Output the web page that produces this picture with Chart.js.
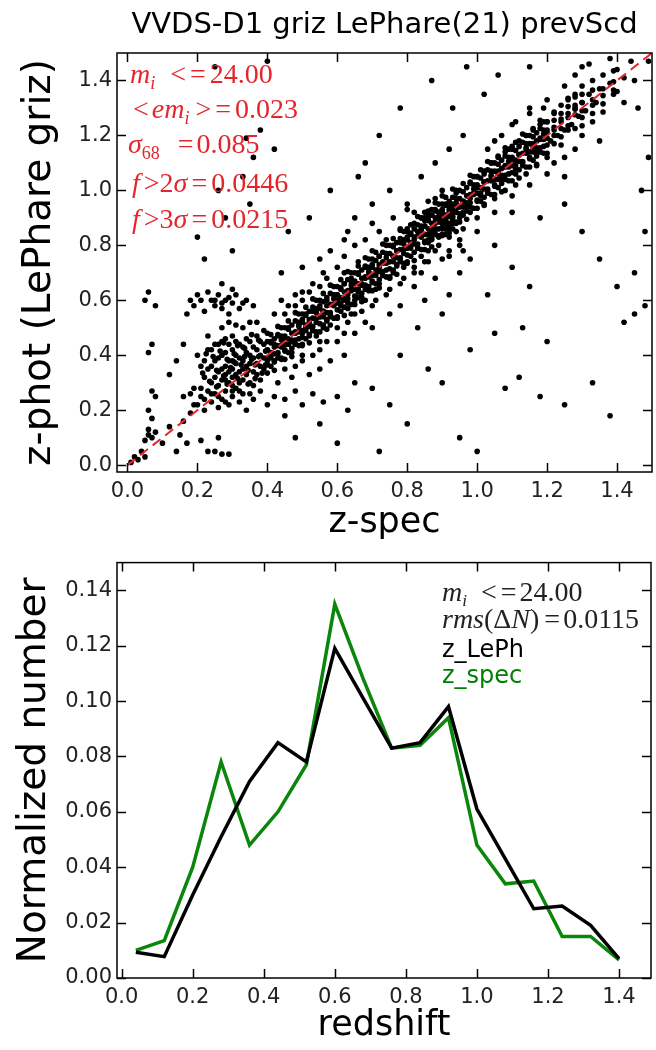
<!DOCTYPE html>
<html>
<head>
<meta charset="utf-8">
<script src="https://cdn.jsdelivr.net/npm/chart.js@4.4.1/dist/chart.umd.min.js"></script>
<style>
  body { margin: 0; background: #fff; }
  canvas { position: absolute; left: 0; }
  #zz { top: 0; }
  #hist { top: 545px; }
</style>
</head>
<body>
<canvas id="zz" width="656" height="545"></canvas>
<canvas id="hist" width="656" height="505"></canvas>
<script>
// [z-spec, z-phot] per galaxy
const zPairs = [
  // low-z outliers and tail
  [0.01,0.01],[0.02,0.03],[0.03,0.02],[0.04,0.05],[0.05,0.03],[0.05,0.09],[0.06,0.11],[0.07,0.10],[0.06,0.13],[0.08,0.12],
  [0.07,0.17],[0.06,0.20],[0.08,0.25],[0.07,0.27],[0.06,0.41],[0.07,0.44],[0.05,0.60],[0.06,0.63],[0.08,0.58],[0.10,0.08],
  [0.12,0.14],[0.14,0.05],[0.15,0.11],[0.16,0.16],[0.17,0.08],[0.18,0.19],[0.19,0.22],[0.18,0.26],[0.16,0.25],[0.17,0.55],
  [0.18,0.60],[0.20,0.62],[0.19,0.58],[0.21,0.09],[0.23,0.05],[0.25,0.05],[0.27,0.04],[0.29,0.04],[0.26,0.10],[0.12,0.33],
  [0.14,0.38],[0.16,0.44],
  [0.20,0.22],[0.21,0.25],[0.22,0.20],[0.23,0.27],[0.24,0.23],[0.25,0.26],[0.26,0.21],[0.27,0.24],[0.28,0.27],[0.29,0.22],
  [0.30,0.25],[0.31,0.28],[0.32,0.23],[0.33,0.26],[0.34,0.20],[0.36,0.24],[0.38,0.27],[0.40,0.22],[0.42,0.25],[0.45,0.24],
  [0.48,0.27],[0.50,0.22],[0.53,0.26],[0.56,0.23],[0.60,0.25],
  // z ~ 0.3 clump
  [0.22,0.32],[0.23,0.35],[0.24,0.30],[0.25,0.38],[0.26,0.34],[0.27,0.31],[0.27,0.40],[0.28,0.36],[0.28,0.33],[0.29,0.38],
  [0.29,0.30],[0.30,0.35],[0.30,0.42],[0.30,0.32],[0.31,0.37],[0.31,0.40],[0.32,0.34],[0.32,0.30],[0.32,0.44],[0.33,0.38],
  [0.33,0.35],[0.34,0.41],[0.34,0.33],[0.35,0.37],[0.35,0.45],[0.36,0.39],[0.36,0.34],[0.37,0.42],[0.37,0.47],[0.38,0.36],
  [0.38,0.40],[0.39,0.44],[0.40,0.38],[0.40,0.48],[0.26,0.44],[0.28,0.46],[0.24,0.42],[0.21,0.36],[0.20,0.40],[0.30,0.47],
  [0.33,0.50],[0.29,0.52],[0.35,0.52],
  [0.21,0.28],[0.22,0.38],[0.23,0.42],[0.24,0.36],[0.25,0.32],[0.25,0.44],[0.26,0.29],[0.26,0.39],[0.27,0.35],[0.27,0.45],
  [0.28,0.31],[0.28,0.41],[0.29,0.34],[0.29,0.44],[0.30,0.29],[0.30,0.38],[0.31,0.33],[0.31,0.45],[0.32,0.39],[0.32,0.27],
  [0.33,0.31],[0.33,0.43],[0.34,0.36],[0.34,0.46],[0.35,0.30],[0.35,0.40],[0.36,0.43],[0.36,0.29],[0.37,0.37],[0.37,0.33],
  [0.38,0.45],[0.38,0.31],[0.39,0.39],[0.39,0.35],[0.22,0.24],[0.24,0.26],[0.26,0.25],[0.28,0.23],[0.30,0.27],[0.35,0.26],
  [0.19,0.28],[0.23,0.47],[0.27,0.50],[0.31,0.51],[0.37,0.52],[0.39,0.49],
  [0.215,0.335],[0.235,0.305],[0.245,0.395],[0.255,0.345],[0.265,0.415],[0.275,0.325],[0.285,0.385],[0.295,0.355],
  [0.305,0.405],[0.315,0.315],[0.325,0.365],[0.335,0.425],[0.345,0.345],[0.355,0.385],[0.365,0.315],[0.375,0.395],
  [0.385,0.335],[0.395,0.415],[0.255,0.285],[0.285,0.295],[0.315,0.435],[0.345,0.295],[0.375,0.455],[0.305,0.375],
  [0.335,0.395],[0.365,0.365],[0.395,0.365],[0.275,0.445],[0.225,0.405],[0.355,0.475],
  // stripe at z-phot ~ 0.6
  [0.22,0.56],[0.24,0.60],[0.25,0.58],[0.26,0.62],[0.27,0.57],[0.28,0.60],[0.29,0.55],[0.30,0.59],[0.31,0.62],[0.32,0.57],
  [0.34,0.60],[0.36,0.58],[0.23,0.63],[0.30,0.64],[0.27,0.66],[0.25,0.60],[0.27,0.59],[0.29,0.61],[0.33,0.59],[0.21,0.60],
  [0.20,0.83],[0.22,0.75],[0.28,0.90],[0.30,0.78],[0.33,1.05],[0.34,1.19],[0.36,1.12],[0.38,1.22],[0.40,1.47],[0.25,1.45],
  [0.35,0.95],[0.26,1.00],
  // 0.4 - 0.6
  [0.40,0.42],[0.41,0.40],[0.41,0.45],[0.42,0.38],[0.42,0.44],[0.43,0.41],[0.43,0.47],[0.44,0.43],[0.44,0.39],[0.45,0.46],
  [0.45,0.42],[0.46,0.44],[0.46,0.50],[0.47,0.45],[0.47,0.41],[0.48,0.48],[0.48,0.44],[0.49,0.51],[0.49,0.46],[0.50,0.48],
  [0.50,0.53],[0.50,0.44],[0.51,0.50],[0.51,0.55],[0.52,0.47],[0.52,0.52],[0.53,0.49],[0.53,0.56],[0.54,0.52],[0.54,0.47],
  [0.55,0.54],[0.55,0.58],[0.56,0.50],[0.56,0.56],[0.57,0.53],[0.57,0.60],[0.58,0.55],[0.58,0.51],[0.59,0.58],[0.59,0.62],
  [0.60,0.54],[0.60,0.60],
  [0.42,0.55],[0.44,0.60],[0.46,0.58],[0.48,0.62],[0.50,0.60],[0.52,0.63],[0.45,0.35],[0.48,0.36],[0.50,0.38],[0.53,0.40],
  [0.55,0.42],[0.57,0.45],[0.43,0.30],[0.47,0.32],[0.52,0.33],[0.58,0.38],[0.44,0.70],[0.50,0.72],[0.55,0.75],[0.46,0.85],
  [0.52,0.90],[0.58,1.00],[0.42,1.15],[0.48,0.10],[0.55,0.15],[0.60,0.08],[0.45,0.18],[0.55,0.65],[0.57,0.68],
  // 0.6 - 0.8
  [0.60,0.62],[0.61,0.58],[0.61,0.64],[0.62,0.60],[0.62,0.66],[0.63,0.62],[0.63,0.57],[0.64,0.64],[0.64,0.68],[0.65,0.60],
  [0.65,0.66],[0.66,0.63],[0.66,0.70],[0.67,0.66],[0.67,0.61],[0.68,0.68],[0.68,0.72],[0.69,0.65],[0.69,0.70],[0.70,0.67],
  [0.70,0.73],[0.71,0.70],[0.71,0.64],[0.72,0.72],[0.72,0.76],[0.73,0.69],[0.73,0.74],[0.74,0.71],[0.74,0.77],[0.75,0.74],
  [0.75,0.68],[0.76,0.76],[0.76,0.80],[0.77,0.73],[0.77,0.78],[0.78,0.75],[0.78,0.81],[0.79,0.77],[0.79,0.72],[0.80,0.79],
  [0.80,0.83],
  [0.62,0.70],[0.64,0.55],[0.66,0.74],[0.68,0.60],[0.70,0.78],[0.72,0.66],[0.74,0.82],[0.76,0.70],[0.78,0.86],[0.80,0.74],
  [0.63,0.52],[0.67,0.56],[0.71,0.60],[0.75,0.64],[0.79,0.68],
  [0.60,0.45],[0.62,0.40],[0.65,0.48],[0.70,0.50],[0.75,0.55],[0.78,0.58],[0.62,0.82],[0.65,0.90],[0.70,0.95],[0.75,1.00],
  [0.68,1.10],[0.72,1.20],[0.78,1.30],[0.65,0.30],[0.70,0.28],[0.75,0.22],[0.80,0.15],[0.72,0.05],[0.63,0.20],[0.78,0.40],
  [0.80,0.95],[0.66,1.05],
  // 0.8 - 1.0
  [0.80,0.86],[0.81,0.80],[0.81,0.84],[0.82,0.82],[0.82,0.88],[0.83,0.79],[0.83,0.85],[0.84,0.83],[0.84,0.90],[0.85,0.81],
  [0.85,0.87],[0.85,0.92],[0.86,0.84],[0.86,0.89],[0.86,0.78],[0.87,0.86],[0.87,0.91],[0.87,0.82],[0.88,0.88],[0.88,0.93],
  [0.88,0.84],[0.89,0.86],[0.89,0.90],[0.89,0.80],[0.90,0.88],[0.90,0.93],[0.90,0.84],[0.91,0.90],[0.91,0.86],[0.91,0.95],
  [0.92,0.88],[0.92,0.92],[0.92,0.83],[0.93,0.90],[0.93,0.95],[0.93,0.86],[0.94,0.92],[0.94,0.88],[0.95,0.94],[0.95,0.90],
  [0.96,0.96],[0.96,0.92],[0.97,0.94],[0.98,0.97],[0.98,0.92],[0.99,0.99],[1.00,0.96],[1.00,1.01],
  [0.82,0.92],[0.84,0.76],[0.86,0.96],[0.88,0.78],[0.90,0.98],[0.92,0.78],[0.94,0.99],[0.96,0.86],[0.98,1.03],[0.85,0.74],
  [0.90,0.75],[0.95,0.82],
  [0.84,0.86],[0.85,0.89],[0.86,0.82],[0.86,0.91],[0.87,0.84],[0.87,0.93],[0.88,0.86],[0.88,0.90],[0.89,0.83],[0.89,0.92],
  [0.90,0.86],[0.90,0.91],[0.91,0.84],[0.91,0.88],[0.92,0.86],[0.92,0.94],[0.93,0.88],[0.93,0.92],[0.94,0.85],[0.94,0.95],
  [0.88,0.97],[0.90,1.00],[0.86,0.74],[0.92,0.76],[0.95,0.80],[0.82,0.72],[0.84,0.70],[0.96,0.78],
  [0.82,0.65],[0.85,0.60],[0.88,0.68],[0.90,0.55],[0.92,0.62],[0.95,0.70],[0.98,0.75],[0.84,1.05],[0.88,1.10],[0.92,1.15],
  [0.96,1.20],[0.86,0.35],[0.90,0.30],[0.95,0.10],[0.98,0.42],[0.83,0.50],[0.93,1.30],[0.87,1.40],[0.97,1.45],
  // 1.0 - 1.2
  [1.00,1.05],[1.01,0.98],[1.02,1.03],[1.02,1.07],[1.03,1.00],[1.04,1.05],[1.04,1.10],[1.05,1.02],[1.06,1.07],[1.06,1.12],
  [1.07,1.04],[1.08,1.09],[1.08,1.14],[1.09,1.06],[1.10,1.11],[1.10,1.16],[1.11,1.08],[1.12,1.13],[1.12,1.18],[1.13,1.10],
  [1.14,1.15],[1.14,1.20],[1.15,1.12],[1.16,1.17],[1.16,1.22],[1.17,1.14],[1.18,1.19],[1.18,1.24],[1.19,1.16],[1.20,1.21],
  [1.02,0.95],[1.05,0.97],[1.08,1.00],[1.11,1.02],[1.14,1.06],[1.17,1.09],[1.20,1.12],[1.03,1.15],[1.07,1.20],[1.11,1.25],
  [1.15,1.30],[1.19,1.30],
  [1.00,0.85],[1.05,0.80],[1.10,0.72],[1.15,0.65],[1.03,0.62],[1.08,0.28],[1.12,0.32],[1.18,0.25],[1.00,0.05],[1.05,0.48],
  [1.13,0.50],[1.02,1.35],[1.06,1.42],[1.15,1.45],[1.18,0.90],[1.10,0.92],
  // 1.2 - 1.5
  [1.20,1.25],[1.21,1.18],[1.22,1.23],[1.22,1.28],[1.23,1.20],[1.24,1.26],[1.24,1.31],[1.25,1.22],[1.26,1.28],[1.26,1.33],
  [1.27,1.24],[1.28,1.30],[1.28,1.35],[1.29,1.27],[1.30,1.32],[1.30,1.38],[1.31,1.29],[1.32,1.35],[1.33,1.40],[1.34,1.32],
  [1.35,1.37],[1.36,1.42],[1.38,1.39],[1.40,1.44],[1.42,1.41],[1.44,1.47],
  [1.22,1.10],[1.25,1.05],[1.28,1.15],[1.30,1.20],[1.33,1.25],[1.35,1.18],[1.25,0.95],[1.30,0.85],[1.35,0.75],[1.40,0.65],
  [1.45,0.55],[1.48,0.58],[1.42,0.52],[1.25,0.22],[1.38,0.18],[1.45,0.70],[1.48,0.85],[1.47,1.00],[1.49,1.12],[1.46,1.30],
  [1.49,1.47],[1.30,1.45],[1.38,1.48],[1.20,0.45],[1.33,0.30],
  // wider wings of the main sequence
  [0.45,0.55],[0.48,0.58],[0.50,0.63],[0.53,0.66],[0.56,0.70],[0.60,0.72],[0.62,0.76],[0.65,0.80],[0.68,0.82],[0.72,0.85],
  [0.76,0.90],[0.80,0.93],[0.50,0.40],[0.55,0.45],[0.60,0.50],[0.65,0.55],[0.70,0.58],[0.74,0.62],[0.78,0.66],[0.82,0.70],
  [1.00,0.90],[1.05,0.92],[1.10,0.98],[1.15,1.02],[1.20,1.06],[1.25,1.12],[1.05,1.18],[1.10,1.24],[1.15,1.28],[1.20,1.33],
  [1.25,1.38],[1.28,1.42],[1.32,1.46],[1.40,1.36],[1.42,1.32],[1.45,1.40],[0.58,0.78],[0.63,0.85],[0.70,0.88],[0.55,0.35],
  [0.62,0.48],[0.68,0.52],
  // core of the main sequence
  [0.40,0.335],[0.40,0.365],[0.40,0.390],[0.40,0.420],[0.40,0.450],
  [0.41,0.360],[0.41,0.390],[0.41,0.410],[0.41,0.445],[0.41,0.475],
  [0.42,0.345],[0.42,0.375],[0.42,0.405],[0.42,0.430],[0.42,0.460],
  [0.43,0.390],[0.43,0.405],[0.43,0.435],[0.43,0.475],[0.43,0.505],
  [0.44,0.385],[0.44,0.435],[0.44,0.455],[0.44,0.470],[0.44,0.500],
  [0.45,0.385],[0.45,0.415],[0.45,0.440],[0.45,0.470],[0.45,0.500],
  [0.46,0.410],[0.46,0.440],[0.46,0.460],[0.46,0.495],[0.46,0.525],
  [0.47,0.395],[0.47,0.425],[0.47,0.455],[0.47,0.480],[0.47,0.510],
  [0.48,0.440],[0.48,0.455],[0.48,0.485],[0.48,0.525],[0.48,0.555],
  [0.49,0.435],[0.49,0.485],[0.49,0.505],[0.49,0.520],[0.49,0.550],
  [0.50,0.435],[0.50,0.465],[0.50,0.490],[0.50,0.520],[0.50,0.550],
  [0.51,0.460],[0.51,0.490],[0.51,0.510],[0.51,0.545],[0.51,0.575],
  [0.52,0.445],[0.52,0.475],[0.52,0.505],[0.52,0.530],[0.52,0.560],
  [0.53,0.490],[0.53,0.505],[0.53,0.535],[0.53,0.575],[0.53,0.605],
  [0.54,0.485],[0.54,0.535],[0.54,0.555],[0.54,0.570],[0.54,0.600],
  [0.55,0.485],[0.55,0.515],[0.55,0.540],[0.55,0.570],[0.55,0.600],
  [0.56,0.510],[0.56,0.540],[0.56,0.560],[0.56,0.595],[0.56,0.625],
  [0.57,0.495],[0.57,0.525],[0.57,0.555],[0.57,0.580],[0.57,0.610],
  [0.58,0.540],[0.58,0.555],[0.58,0.585],[0.58,0.625],[0.58,0.655],
  [0.59,0.535],[0.59,0.585],[0.59,0.605],[0.59,0.620],[0.59,0.650],
  [0.60,0.535],[0.60,0.565],[0.60,0.590],[0.60,0.620],[0.60,0.650],
  [0.61,0.560],[0.61,0.590],[0.61,0.610],[0.61,0.645],[0.61,0.675],
  [0.62,0.545],[0.62,0.575],[0.62,0.605],[0.62,0.630],[0.62,0.660],
  [0.63,0.590],[0.63,0.605],[0.63,0.635],[0.63,0.675],[0.63,0.705],
  [0.64,0.585],[0.64,0.635],[0.64,0.655],[0.64,0.670],[0.64,0.700],
  [0.65,0.585],[0.65,0.615],[0.65,0.640],[0.65,0.670],[0.65,0.700],
  [0.66,0.610],[0.66,0.640],[0.66,0.660],[0.66,0.695],[0.66,0.725],
  [0.67,0.595],[0.67,0.625],[0.67,0.655],[0.67,0.680],[0.67,0.710],
  [0.68,0.640],[0.68,0.655],[0.68,0.685],[0.68,0.725],[0.68,0.755],
  [0.69,0.635],[0.69,0.685],[0.69,0.705],[0.69,0.720],[0.69,0.750],
  [0.70,0.635],[0.70,0.665],[0.70,0.690],[0.70,0.720],[0.70,0.750],
  [0.71,0.660],[0.71,0.690],[0.71,0.710],[0.71,0.745],[0.71,0.775],
  [0.72,0.645],[0.72,0.675],[0.72,0.705],[0.72,0.730],[0.72,0.760],
  [0.73,0.690],[0.73,0.705],[0.73,0.735],[0.73,0.775],[0.73,0.805],
  [0.74,0.685],[0.74,0.735],[0.74,0.755],[0.74,0.770],[0.74,0.800],
  [0.75,0.685],[0.75,0.715],[0.75,0.740],[0.75,0.770],[0.75,0.800],
  [0.76,0.710],[0.76,0.740],[0.76,0.760],[0.76,0.795],[0.76,0.825],
  [0.77,0.695],[0.77,0.725],[0.77,0.755],[0.77,0.780],[0.77,0.810],
  [0.78,0.740],[0.78,0.755],[0.78,0.785],[0.78,0.825],[0.78,0.855],
  [0.79,0.735],[0.79,0.785],[0.79,0.805],[0.79,0.820],[0.79,0.850],
  [0.80,0.735],[0.80,0.765],[0.80,0.790],[0.80,0.820],[0.80,0.850],
  [0.81,0.760],[0.81,0.790],[0.81,0.810],[0.81,0.845],[0.81,0.875],
  [0.82,0.745],[0.82,0.775],[0.82,0.805],[0.82,0.830],[0.82,0.860],
  [0.83,0.790],[0.83,0.805],[0.83,0.835],[0.83,0.875],[0.83,0.905],
  [0.84,0.785],[0.84,0.835],[0.84,0.855],[0.84,0.870],[0.84,0.900],
  [0.85,0.785],[0.85,0.815],[0.85,0.840],[0.85,0.870],[0.85,0.900],
  [0.86,0.810],[0.86,0.840],[0.86,0.860],[0.86,0.895],[0.86,0.925],
  [0.87,0.795],[0.87,0.825],[0.87,0.855],[0.87,0.880],[0.87,0.910],
  [0.88,0.840],[0.88,0.855],[0.88,0.885],[0.88,0.925],[0.88,0.955],
  [0.89,0.835],[0.89,0.885],[0.89,0.905],[0.89,0.920],[0.89,0.950],
  [0.90,0.835],[0.90,0.865],[0.90,0.890],[0.90,0.920],[0.90,0.950],
  [0.91,0.860],[0.91,0.890],[0.91,0.910],[0.91,0.945],[0.91,0.975],
  [0.92,0.845],[0.92,0.875],[0.92,0.905],[0.92,0.930],[0.92,0.960],
  [0.93,0.890],[0.93,0.905],[0.93,0.935],[0.93,0.975],[0.93,1.005],
  [0.94,0.885],[0.94,0.935],[0.94,0.955],[0.94,0.970],[0.94,1.000],
  [0.95,0.885],[0.95,0.915],[0.95,0.940],[0.95,0.970],[0.95,1.000],
  [0.96,0.910],[0.96,0.940],[0.96,0.960],[0.96,0.995],[0.96,1.025],
  [0.97,0.895],[0.97,0.925],[0.97,0.955],[0.97,0.980],[0.97,1.010],
  [0.98,0.940],[0.98,0.955],[0.98,0.985],[0.98,1.025],[0.98,1.055],
  [0.99,0.935],[0.99,0.985],[0.99,1.005],[0.99,1.020],[0.99,1.050],
  [1.00,0.935],[1.00,0.965],[1.00,0.990],[1.00,1.020],[1.00,1.050],
  [1.01,0.960],[1.01,0.990],[1.01,1.010],[1.01,1.045],[1.01,1.075],
  [1.02,0.945],[1.02,0.975],[1.02,1.005],[1.02,1.030],[1.02,1.060],
  [1.03,0.990],[1.03,1.005],[1.03,1.035],[1.03,1.075],[1.03,1.105],
  [1.04,0.985],[1.04,1.035],[1.04,1.055],[1.04,1.070],[1.04,1.100],
  [1.05,0.985],[1.05,1.015],[1.05,1.040],[1.05,1.070],[1.05,1.100],
  [1.06,1.010],[1.06,1.040],[1.06,1.060],[1.06,1.095],[1.06,1.125],
  [1.07,0.995],[1.07,1.025],[1.07,1.055],[1.07,1.080],[1.07,1.110],
  [1.08,1.040],[1.08,1.055],[1.08,1.085],[1.08,1.125],[1.08,1.155],
  [1.09,1.035],[1.09,1.085],[1.09,1.105],[1.09,1.120],[1.09,1.150],
  [1.10,1.035],[1.10,1.065],[1.10,1.090],[1.10,1.120],[1.10,1.150],
  [1.11,1.060],[1.11,1.090],[1.11,1.110],[1.11,1.145],[1.11,1.175],
  [1.12,1.045],[1.12,1.075],[1.12,1.105],[1.12,1.130],[1.12,1.160],
  [1.13,1.090],[1.13,1.105],[1.13,1.135],[1.13,1.175],[1.13,1.205],
  [1.14,1.085],[1.14,1.135],[1.14,1.155],[1.14,1.170],[1.14,1.200],
  [1.15,1.085],[1.15,1.115],[1.15,1.140],[1.15,1.170],[1.15,1.200],
  [1.16,1.110],[1.16,1.140],[1.16,1.160],[1.16,1.195],[1.16,1.225],
  [1.17,1.095],[1.17,1.125],[1.17,1.155],[1.17,1.180],[1.17,1.210],
  [1.18,1.140],[1.18,1.155],[1.18,1.185],[1.18,1.225],[1.18,1.255],
  [1.19,1.135],[1.19,1.185],[1.19,1.205],[1.19,1.220],[1.19,1.250],
  [1.20,1.135],[1.20,1.165],[1.20,1.190],[1.20,1.220],[1.20,1.250],
  [1.22,1.170],[1.22,1.200],[1.22,1.220],[1.22,1.255],[1.22,1.285],
  [1.24,1.165],[1.24,1.195],[1.24,1.225],[1.24,1.250],[1.24,1.280],
  [1.26,1.220],[1.26,1.235],[1.26,1.265],[1.26,1.305],[1.26,1.335],
  [1.28,1.225],[1.28,1.275],[1.28,1.295],[1.28,1.310],[1.28,1.340],
  [1.30,1.235],[1.30,1.265],[1.30,1.290],[1.30,1.320],[1.30,1.350],
  [1.33,1.280],[1.33,1.310],[1.33,1.330],[1.33,1.365],
  [1.36,1.285],[1.36,1.315],[1.36,1.345],[1.36,1.370],
  [1.39,1.350],[1.39,1.365],[1.39,1.395],[1.39,1.435]
];
const zSpec = zPairs.map(p => p[0]);
const zPhot = zPairs.map(p => p[1]);
const oneToOne = [0, 1.5];
const zTicks = [0, 0.2, 0.4, 0.6, 0.8, 1.0, 1.2, 1.4];

// normalized N(z), bin centres
const zBins = [0.04, 0.12, 0.20, 0.28, 0.36, 0.44, 0.52, 0.60, 0.68, 0.76, 0.84, 0.92, 1.00, 1.08, 1.16, 1.24, 1.32, 1.40];
const nLePh = [0.0093, 0.0077, 0.030, 0.051, 0.071, 0.085, 0.078, 0.119, 0.101, 0.083, 0.085, 0.098, 0.061, 0.043, 0.025, 0.026, 0.019, 0.007];
const nSpec = [0.0100, 0.0135, 0.040, 0.078, 0.048, 0.060, 0.077, 0.135, 0.108, 0.083, 0.084, 0.094, 0.048, 0.034, 0.035, 0.015, 0.015, 0.0065];
const nTicks = [0, 0.02, 0.04, 0.06, 0.08, 0.10, 0.12, 0.14];

const RED = 'rgb(228,38,44)';
const X_TITLE = { family: 'DejaVu Sans', size: 35, lineHeight: 1 };
const Y_TITLE = { family: 'DejaVu Sans', size: 39, lineHeight: 1 };
const TICK_FONT = { family: 'DejaVu Sans', size: 21 };

// box + inward ticks on all four sides
const frame = {
  id: 'frame',
  afterDraw(chart) {
    const { ctx, chartArea: a, scales: { x, y } } = chart;
    ctx.save();
    ctx.strokeStyle = '#000';
    ctx.lineWidth = 1.5;
    ctx.beginPath();
    x.ticks.forEach(t => {
      const px = Math.round(x.getPixelForValue(t.value)) + 0.5;
      ctx.moveTo(px, a.bottom); ctx.lineTo(px, a.bottom - 9);
      ctx.moveTo(px, a.top); ctx.lineTo(px, a.top + 9);
    });
    y.ticks.forEach(t => {
      const py = Math.round(y.getPixelForValue(t.value)) + 0.5;
      ctx.moveTo(a.left, py); ctx.lineTo(a.left + 9, py);
      ctx.moveTo(a.right, py); ctx.lineTo(a.right - 9, py);
    });
    ctx.stroke();
    ctx.strokeRect(a.left, a.top, a.width, a.height);
    ctx.restore();
  }
};

// text runs: {t, f, dy, sp}
function drawRuns(ctx, x, y, runs, color) {
  ctx.fillStyle = color;
  ctx.textBaseline = 'alphabetic';
  ctx.textAlign = 'left';
  let cx = x;
  runs.forEach(r => {
    ctx.font = r.f;
    ctx.fillText(r.t, cx, y + (r.dy || 0));
    cx += ctx.measureText(r.t).width + (r.sp || 0);
  });
}
const IT = 'italic 28px "Liberation Serif"';
const RM = '28px "Liberation Serif"';
const SUB = 'italic 18px "Liberation Serif"';
const SUBR = '18px "Liberation Serif"';

const zzNotes = {
  id: 'zzNotes',
  afterDraw(chart) {
    const ctx = chart.ctx;
    ctx.save();
    drawRuns(ctx, 130, 83, [{t:'m', f:IT}, {t:'i', f:SUB, dy:6, sp:15}, {t:'<', f:RM, sp:4}, {t:'=', f:RM, sp:4}, {t:'24.00', f:RM}], RED);
    drawRuns(ctx, 133, 118, [{t:'<', f:RM, sp:3}, {t:'em', f:IT}, {t:'i', f:SUB, dy:6, sp:6}, {t:'>', f:RM, sp:4}, {t:'=', f:RM, sp:4}, {t:'0.023', f:RM}], RED);
    drawRuns(ctx, 128, 153, [{t:'σ', f:IT}, {t:'68', f:SUBR, dy:6, sp:18}, {t:'=', f:RM, sp:3}, {t:'0.085', f:RM}], RED);
    drawRuns(ctx, 132, 192, [{t:'f', f:IT, sp:4}, {t:'>', f:RM}, {t:'2', f:RM}, {t:'σ', f:IT, sp:4}, {t:'=', f:RM, sp:4}, {t:'0.0446', f:RM}], RED);
    drawRuns(ctx, 132, 228, [{t:'f', f:IT, sp:4}, {t:'>', f:RM}, {t:'3', f:RM}, {t:'σ', f:IT, sp:4}, {t:'=', f:RM, sp:4}, {t:'0.0215', f:RM}], RED);
    ctx.restore();
  }
};

const histNotes = {
  id: 'histNotes',
  afterDraw(chart) {
    const ctx = chart.ctx;
    ctx.save();
    const f = '28px "Liberation Serif"', fi = 'italic 28px "Liberation Serif"', fs = 'italic 17px "Liberation Serif"';
    drawRuns(ctx, 442, 56, [{t:'m', f:fi}, {t:'i', f:fs, dy:5, sp:14}, {t:'<', f:f, sp:4}, {t:'=', f:f, sp:3}, {t:'24.00', f:f}], '#222');
    drawRuns(ctx, 442, 83, [{t:'rms', f:fi}, {t:'(Δ', f:f}, {t:'N', f:fi}, {t:')', f:f, sp:5}, {t:'=', f:f, sp:3}, {t:'0.0115', f:f}], '#222');
    ctx.font = '24px "DejaVu Sans"';
    ctx.fillStyle = '#000';
    ctx.fillText('z_LePh', 442, 112);
    ctx.fillStyle = '#008000';
    ctx.fillText('z_spec', 442, 138);
    ctx.restore();
  }
};

function fixTicks(values) {
  return scale => { scale.ticks = values.map(v => ({ value: v })); };
}

new Chart(document.getElementById('zz'), {
  type: 'scatter',
  data: {
    datasets: [
      {
        label: '1:1',
        type: 'line',
        data: oneToOne.map(v => ({ x: v, y: v })),
        borderColor: RED,
        borderWidth: 2,
        borderDash: [10, 6],
        pointRadius: 0,
        order: 0
      },
      {
        label: 'galaxies',
        data: zSpec.map((v, i) => ({ x: v, y: zPhot[i] })),
        backgroundColor: '#000',
        borderWidth: 0,
        pointRadius: 2.8,
        order: 1
      }
    ]
  },
  options: {
    responsive: false,
    animation: false,
    layout: { padding: { left: 0, right: 1, top: 0, bottom: 0 } },
    plugins: {
      legend: { display: false },
      tooltip: { enabled: false },
      title: {
        display: true,
        fullSize: false,
        text: 'VVDS-D1 griz LePhare(21) prevScd',
        color: '#000',
        font: { family: 'DejaVu Sans', size: 29, weight: 'normal', lineHeight: 1.2 },
        padding: { top: 8, bottom: 10.2 }
      }
    },
    scales: {
      x: {
        type: 'linear', min: -0.03, max: 1.5,
        afterBuildTicks: fixTicks(zTicks),
        afterFit: s => { s.height = 73; },
        grid: { display: false, drawTicks: false },
        border: { display: false },
        ticks: { font: TICK_FONT, color: '#222', padding: 7, maxRotation: 0, callback: v => v.toFixed(1) },
        title: { display: true, text: 'z-spec', color: '#000', font: X_TITLE, padding: { top: 0, bottom: 5 } }
      },
      y: {
        type: 'linear', min: -0.025, max: 1.5,
        afterBuildTicks: fixTicks(zTicks),
        afterFit: s => { s.width = 117; },
        grid: { display: false, drawTicks: false },
        border: { display: false },
        ticks: { font: TICK_FONT, color: '#222', padding: 5, callback: v => v.toFixed(1) },
        title: { display: true, text: 'z-phot (LePhare griz)', color: '#000', font: Y_TITLE, padding: { top: 20, bottom: 0 } }
      }
    }
  },
  plugins: [frame, zzNotes]
});

new Chart(document.getElementById('hist'), {
  type: 'line',
  data: {
    datasets: [
      {
        label: 'z_LePh',
        data: zBins.map((z, i) => ({ x: z, y: nLePh[i] })),
        borderColor: '#000',
        borderWidth: 3.5,
        pointRadius: 0,
        tension: 0,
        order: 0
      },
      {
        label: 'z_spec',
        data: zBins.map((z, i) => ({ x: z, y: nSpec[i] })),
        borderColor: '#0a860a',
        borderWidth: 3.5,
        pointRadius: 0,
        tension: 0,
        order: 1
      }
    ]
  },
  options: {
    responsive: false,
    animation: false,
    layout: { padding: { left: 0, right: 5, top: 12, bottom: 0 } },
    plugins: { legend: { display: false }, tooltip: { enabled: false } },
    scales: {
      x: {
        type: 'linear', min: -0.013, max: 1.49,
        afterBuildTicks: fixTicks(zTicks),
        afterFit: s => { s.height = 72; },
        grid: { display: false, drawTicks: false },
        border: { display: false },
        ticks: { font: TICK_FONT, color: '#222', padding: 7, maxRotation: 0, callback: v => v.toFixed(1) },
        title: { display: true, text: 'redshift', color: '#000', font: X_TITLE, padding: { top: 0, bottom: 7 } }
      },
      y: {
        type: 'linear', min: 0, max: 0.15,
        afterBuildTicks: fixTicks(nTicks),
        afterFit: s => { s.width = 117; },
        grid: { display: false, drawTicks: false },
        border: { display: false },
        ticks: { font: TICK_FONT, color: '#222', padding: 5, callback: v => v.toFixed(2) },
        title: { display: true, text: 'Normalized number', color: '#000', font: Y_TITLE, padding: { top: 15, bottom: 0 } }
      }
    }
  },
  plugins: [frame, histNotes]
});
</script>
</body>
</html>
